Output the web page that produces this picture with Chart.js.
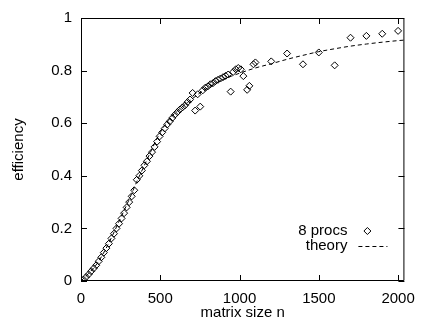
<!DOCTYPE html>
<html><head><meta charset="utf-8">
<script src="https://cdn.jsdelivr.net/npm/chart.js@4/dist/chart.umd.min.js"></script>
<style>html,body{margin:0;padding:0;background:#fff}#wrap{width:424px;height:322px}</style>
</head><body>
<div id="wrap"><canvas id="c" width="424" height="322"></canvas></div>
<script>
// measured data: 8 procs
const procN = [16,32,48,64,80,96,112,128,144,160,176,192,208,224,240,256,272,288,304,320,336,352,368,384,400,416,432,448,464,480,496,512,528,544,560,576,592,608,624,640,656,672,688,704,720,736,752,768,784,800,816,832,848,864,880,896,912,928,944,960,976,992,1008,1024,1048,1062,1088,1100,1200,1300,1400,1500,1600,1700,1800,1900,2000];
const procEff = [0.005,0.015,0.025,0.037,0.048,0.06,0.075,0.09,0.108,0.125,0.142,0.162,0.18,0.2,0.218,0.238,0.258,0.28,0.3,0.322,0.345,0.385,0.4,0.42,0.44,0.455,0.475,0.49,0.51,0.53,0.55,0.565,0.58,0.595,0.607,0.62,0.632,0.642,0.652,0.66,0.668,0.68,0.69,0.715,0.648,0.71,0.663,0.725,0.735,0.74,0.748,0.752,0.76,0.765,0.77,0.775,0.78,0.785,0.72,0.795,0.805,0.81,0.805,0.779,0.727,0.742,0.824,0.831,0.835,0.865,0.824,0.869,0.82,0.925,0.932,0.94,0.951];
// theory curve
const theoryN = [0,50,100,150,200,250,300,350,400,450,500,550,600,650,700,750,800,850,900,950,1000,1100,1200,1300,1400,1500,1600,1700,1800,1900,2000,2040];
const theoryEff = [0,0.03,0.065,0.115,0.175,0.24,0.305,0.375,0.44,0.505,0.565,0.61,0.643,0.668,0.692,0.715,0.735,0.752,0.767,0.779,0.79,0.81,0.826,0.843,0.858,0.872,0.883,0.893,0.901,0.908,0.914,0.916];
const xTicks = [0,500,1000,1500,2000];
const yTicks = [0,0.2,0.4,0.6,0.8,1];
const legendLabels = ['8 procs','theory'];

const FONT = '"Liberation Sans", Arial, Helvetica, sans-serif';
const FS = 15;

const framePlugin = {
  id: 'frame',
  afterDatasetsDraw(chart) {
    const {ctx, chartArea: a, scales: {x, y}} = chart;
    ctx.save();
    ctx.strokeStyle = '#000';
    ctx.lineWidth = 1;
    ctx.setLineDash([]);
    ctx.beginPath();
    ctx.rect(a.left + 0.5, a.top + 0.5, a.right - a.left - 1, a.bottom - a.top - 1);
    ctx.stroke();
    const TL = 6;
    ctx.beginPath();
    yTicks.forEach(v => {
      const p = Math.round(y.getPixelForValue(v)) + 0.5;
      ctx.moveTo(a.left, p); ctx.lineTo(a.left + TL, p);
      ctx.moveTo(a.right, p); ctx.lineTo(a.right - TL, p);
    });
    xTicks.forEach(v => {
      const p = Math.round(x.getPixelForValue(v)) + 0.5;
      ctx.moveTo(p, a.bottom); ctx.lineTo(p, a.bottom - TL);
      ctx.moveTo(p, a.top); ctx.lineTo(p, a.top + TL);
    });
    ctx.stroke();
    // legend
    ctx.fillStyle = '#000';
    ctx.font = FS + 'px ' + FONT;
    ctx.textAlign = 'right';
    ctx.textBaseline = 'middle';
    const lx = a.right - 57, ly1 = a.top + 213, ly2 = a.top + 228;
    ctx.fillText(legendLabels[0], lx, ly1);
    ctx.fillText(legendLabels[1], lx, ly2);
    ctx.fillStyle = 'rgba(0,0,0,0)';
    Chart.helpers.drawPoint(ctx, {pointStyle: 'rectRot', radius: 3.5, borderWidth: 1}, lx + 20, ly1);
    ctx.beginPath();
    ctx.setLineDash([4, 3]);
    ctx.moveTo(lx + 11, ly2 + 0.5); ctx.lineTo(lx + 40, ly2 + 0.5);
    ctx.stroke();
    ctx.restore();
  }
};

new Chart(document.getElementById('c'), {
  type: 'scatter',
  data: {
    datasets: [
      {
        label: legendLabels[0],
        data: procN.map((n, i) => ({x: n, y: procEff[i]})),
        pointStyle: 'rectRot',
        pointRadius: 3.5,
        pointBorderWidth: 1,
        borderColor: '#000',
        pointBorderColor: '#000',
        pointBackgroundColor: 'rgba(0,0,0,0)',
        showLine: false,
        order: 1
      },
      {
        label: legendLabels[1],
        data: theoryN.map((n, i) => ({x: n, y: theoryEff[i]})),
        showLine: true,
        pointRadius: 0,
        borderColor: '#000',
        borderWidth: 1,
        borderDash: [4, 3],
        cubicInterpolationMode: 'monotone',
        fill: false,
        order: 2
      }
    ]
  },
  options: {
    responsive: false,
    animation: false,
    devicePixelRatio: 1,
    layout: {padding: {left: 0, right: 12, top: 14, bottom: 0}},
    plugins: {legend: {display: false}, tooltip: {enabled: false}},
    scales: {
      x: {
        type: 'linear', min: 0, max: 2040,
        grid: {display: false, drawTicks: false},
        border: {display: false},
        afterBuildTicks: s => { s.ticks = xTicks.map(v => ({value: v})); },
        afterFit: s => { s.height = 41; },
        ticks: {color: '#000', font: {family: FONT, size: FS}, padding: 9, maxRotation: 0, callback: v => String(v)},
        title: {display: true, text: 'matrix size n', color: '#000', font: {family: FONT, size: FS}, padding: {top: 0, bottom: 0}}
      },
      y: {
        type: 'linear', min: 0, max: 1,
        grid: {display: false, drawTicks: false},
        border: {display: false},
        afterBuildTicks: s => { s.ticks = yTicks.map(v => ({value: v})); },
        afterFit: s => { s.width = 81; },
        ticks: {color: '#000', font: {family: FONT, size: FS}, padding: 9, callback: v => String(v)},
        title: {display: true, text: 'efficiency', color: '#000', font: {family: FONT, size: FS}, padding: {top: 10, bottom: 10}}
      }
    }
  },
  plugins: [framePlugin]
});
</script>
</body></html>
